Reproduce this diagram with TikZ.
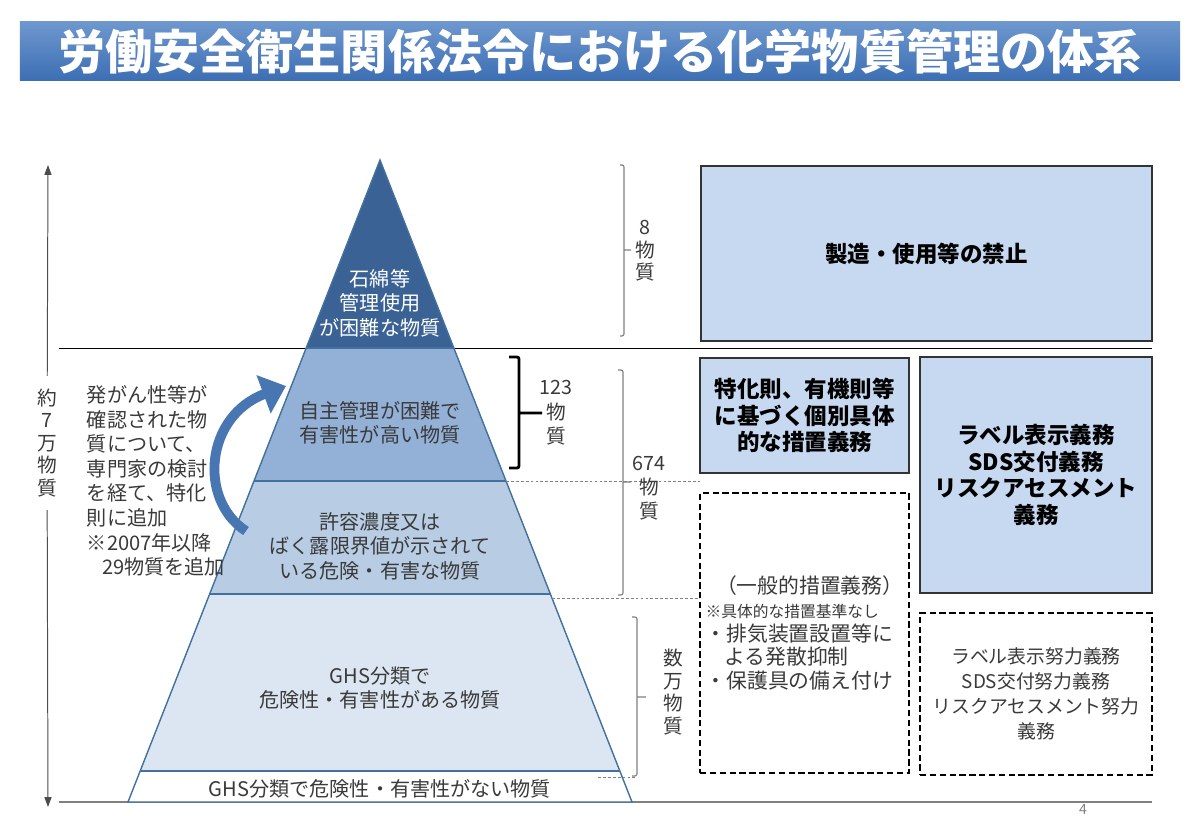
\documentclass[tikz,border=0pt]{standalone}
\usepackage{fontspec}
\setmainfont{Noto Sans CJK JP}
\usepackage{xcolor}
\usetikzlibrary{arrows.meta, positioning}
\definecolor{barTop}{HTML}{6E97CE}
\definecolor{barBot}{HTML}{3D6FB4}
\definecolor{tierA}{HTML}{3B6294}
\definecolor{tierB}{HTML}{93B0D6}
\definecolor{tierC}{HTML}{B8CCE4}
\definecolor{tierD}{HTML}{DCE6F2}
\definecolor{edge}{HTML}{41719C}
\definecolor{boxfill}{HTML}{C6D9F0}
\definecolor{txt}{HTML}{3A3A3A}
\definecolor{arrowblue}{HTML}{4876B2}

\begin{document}
\begin{tikzpicture}[
    x=0.025cm, y=-0.025cm,
    title/.style={top color=barTop, bottom color=barBot, minimum width=29cm, minimum height=1.45cm, text=white, font=\fontsize{33.5}{38}\selectfont\bfseries},
    tiertext/.style={align=center, text=txt, font=\fontsize{14.3}{17.5}\selectfont},
    count/.style={align=center, text=txt, font=\fontsize{14}{16}\selectfont, inner sep=0pt},
    box/.style={draw=black!80, line width=1.2pt, fill=boxfill, align=center, font=\fontsize{16}{19}\selectfont\bfseries},
    dashbox/.style={draw=black, line width=1.6pt, dash pattern=on 4.5pt off 2.5pt, fill=white, text=txt},
    brace/.style={draw=gray, line width=0.8pt, rounded corners=1.5pt},
    guide/.style={draw=gray, line width=0.6pt, dash pattern=on 2pt off 1.5pt},
    bigarrow/.style={draw=arrowblue, line width=7pt, -{Triangle[length=17pt, width=28pt]}},
    axis/.style={draw=black!70, line width=0.7pt, -{Triangle[length=7pt, width=5pt]}}
]
\useasboundingbox (0,0) rectangle (1200,815);
\node[title] (head) at (600,51) {労働安全衛生関係法令における化学物質管理の体系};

\draw[black, line width=0.7pt] (59,348) -- (1152,348);
\draw[gray, line width=0.8pt] (59,802) -- (1152,802);

\begin{scope}
\clip (380,160) -- (632,802) -- (128,802) -- cycle;
\fill[tierA] (100,150) rectangle (660,348);
\fill[tierB] (100,348) rectangle (660,481);
\fill[tierC] (100,481) rectangle (660,594);
\fill[tierD] (100,594) rectangle (660,771);
\fill[white] (100,771) rectangle (660,802);
\draw[edge, line width=1pt] (100,348) -- (660,348) (100,481) -- (660,481) (100,594) -- (660,594) (100,771) -- (660,771);
\end{scope}
\draw[edge, line width=1pt] (380,160) -- (632,802) -- (128,802) -- cycle;

\node[tiertext, text=white] (tA) at (380,303) {石綿等\\管理使用\\が困難な物質};
\node[tiertext] (tB) at (380,423) {自主管理が困難で\\有害性が高い物質};
\node[tiertext] (tC) at (380,546) {許容濃度又は\\ばく露限界値が示されて\\いる危険・有害な物質};
\node[tiertext] (tD) at (380,688) {GHS分類で\\危険性・有害性がある物質};
\node[tiertext] (tE) at (380,789) {GHS分類で危険性・有害性がない物質};

\node[tiertext, align=left, anchor=west] (note) at (82,481) {発がん性等が\\確認された物\\質について、\\専門家の検討\\を経て、特化\\則に追加\\※2007年以降\\\hspace*{0.75em}29物質を追加};

\coordinate (upfrom) at (246,531);
\coordinate (upto) at (286,386);
\draw[bigarrow] (upfrom) .. controls (198,500) and (205,416) .. (upto);

\node[count, inner ysep=9pt] (total) at (47,443) {約\\7\\万\\物\\質};
\coordinate (axtop) at (48,165);
\coordinate (axbot) at (48,807);
\draw[axis] (total) -- (axtop);
\draw[axis] (total) -- (axbot);

\draw[brace] (620,165) -- (624,165) -- (624,336) -- (620,336) (624,250) -- (631,250);
\draw[black, line width=2pt, rounded corners=1.5pt] (509,357) -- (519,357) -- (519,468) -- (509,468) (519,413) -- (542,413);
\draw[brace] (618,370) -- (623,370) -- (623,595) -- (618,595) (623,482) -- (631,482);
\draw[brace] (632,617) -- (637,617) -- (637,776) -- (632,776) (637,697) -- (646,697);

\draw[guide] (506,481) -- (700,481);
\draw[guide] (552,598) -- (700,598);
\draw[guide] (598,777) -- (635,777);

\node[count] (n8) at (645,251) {8\\物\\質};
\node[count, font=\fontsize{14}{17.5}\selectfont] (n123) at (556,413) {123\\物\\質};
\node[count, font=\fontsize{14}{17}\selectfont] (n674) at (649,488) {674\\物\\質};
\node[count] (nmany) at (673,692) {数\\万\\物\\質};

\node[box, minimum width=11.275cm, minimum height=4.375cm] (ban) at (926.5,253.5) {製造・使用等の禁止};
\node[box, minimum width=5.225cm, minimum height=2.875cm] (rule) at (804.5,415.5) {特化則、有機則等\\に基づく個別具体\\的な措置義務};
\node[box, minimum width=5.8cm, minimum height=5.9cm] (duty) at (1036,475) {ラベル表示義務\\SDS交付義務\\リスクアセスメント\\義務};
\node[dashbox, minimum width=5.225cm, minimum height=7cm, align=left, font=\fontsize{14.8}{16.8}\selectfont] (general) at (804.5,633) {\hspace*{0.5em}（一般的措置義務）\\{\fontsize{11.2}{13}\selectfont ※具体的な措置基準なし}\\・排気装置設置等に\\\hspace*{0.9em}よる発散抑制\\・保護具の備え付け};
\node[dashbox, minimum width=5.8cm, minimum height=4.05cm, align=center, font=\fontsize{13.4}{17.8}\selectfont] (effort) at (1036,694) {ラベル表示努力義務\\SDS交付努力義務\\リスクアセスメント努力\\義務};

\node[text=gray, font=\fontsize{10}{12}\selectfont] (page) at (1083,809) {4};
\end{tikzpicture}
\end{document}
